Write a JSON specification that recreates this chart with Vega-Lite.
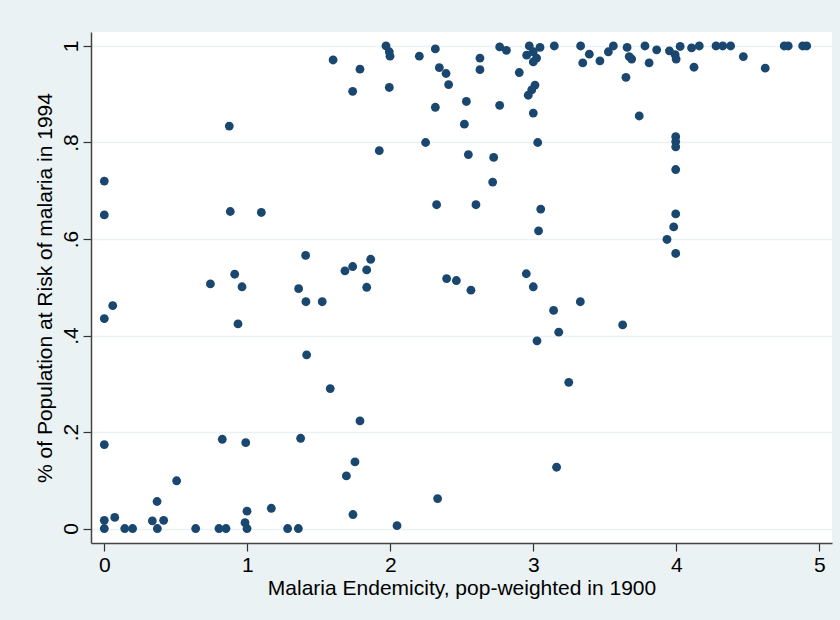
{
  "$schema": "https://vega.github.io/schema/vega-lite/v6.json",
  "width": 741,
  "height": 511,
  "autosize": {"type": "none"},
  "padding": {"left": 91, "top": 32, "right": 8, "bottom": 77},
  "background": "#EAF2F3",
  "config": {
    "view": {"fill": "white", "stroke": null},
    "font": "Liberation Sans",
    "axis": {
      "labelFont": "Liberation Sans",
      "titleFont": "Liberation Sans",
      "labelFontSize": 21,
      "titleFontSize": 21,
      "titleFontWeight": "normal",
      "labelColor": "#000",
      "titleColor": "#000",
      "domainColor": "#444",
      "domainWidth": 1.5,
      "tickColor": "#333",
      "tickWidth": 1.2,
      "tickSize": 8
    }
  },
  "data": {
    "values": [
      {"x": 0, "y": 0.72}, {"x": 0, "y": 0.65}, {"x": 0, "y": 0.435}, {"x": 0.059, "y": 0.462},
      {"x": 0, "y": 0.174}, {"x": 0, "y": 0.017}, {"x": 0, "y": 0}, {"x": 0.073, "y": 0.023},
      {"x": 0.143, "y": 0}, {"x": 0.198, "y": 0}, {"x": 0.336, "y": 0.016}, {"x": 0.371, "y": 0},
      {"x": 0.369, "y": 0.056}, {"x": 0.415, "y": 0.017}, {"x": 0.506, "y": 0.099}, {"x": 0.639, "y": 0},
      {"x": 0.802, "y": 0}, {"x": 0.851, "y": 0}, {"x": 0.825, "y": 0.185}, {"x": 0.989, "y": 0.178},
      {"x": 0.998, "y": 0.036}, {"x": 0.984, "y": 0.012}, {"x": 0.998, "y": 0}, {"x": 1.168, "y": 0.042},
      {"x": 1.282, "y": 0}, {"x": 1.357, "y": 0}, {"x": 1.373, "y": 0.187}, {"x": 1.415, "y": 0.36},
      {"x": 1.58, "y": 0.29}, {"x": 0.742, "y": 0.507}, {"x": 0.963, "y": 0.501}, {"x": 0.935, "y": 0.424},
      {"x": 1.359, "y": 0.497}, {"x": 1.41, "y": 0.47}, {"x": 1.524, "y": 0.47}, {"x": 0.874, "y": 0.834},
      {"x": 0.881, "y": 0.657}, {"x": 1.098, "y": 0.655}, {"x": 1.408, "y": 0.566}, {"x": 0.912, "y": 0.527},
      {"x": 1.6, "y": 0.971}, {"x": 1.788, "y": 0.952}, {"x": 1.737, "y": 0.906}, {"x": 1.97, "y": 1.0},
      {"x": 1.993, "y": 0.988}, {"x": 1.998, "y": 0.979}, {"x": 1.993, "y": 0.914}, {"x": 1.923, "y": 0.783},
      {"x": 2.203, "y": 0.979}, {"x": 2.315, "y": 0.994}, {"x": 2.343, "y": 0.955}, {"x": 2.39, "y": 0.943},
      {"x": 2.408, "y": 0.92}, {"x": 2.315, "y": 0.873}, {"x": 2.247, "y": 0.8}, {"x": 2.532, "y": 0.885},
      {"x": 2.518, "y": 0.838}, {"x": 2.546, "y": 0.775}, {"x": 2.627, "y": 0.975}, {"x": 2.627, "y": 0.951},
      {"x": 2.765, "y": 0.998}, {"x": 2.812, "y": 0.991}, {"x": 2.902, "y": 0.945}, {"x": 2.723, "y": 0.769},
      {"x": 2.716, "y": 0.718}, {"x": 2.765, "y": 0.877}, {"x": 2.972, "y": 1.0}, {"x": 3.047, "y": 0.997},
      {"x": 3.147, "y": 1.0}, {"x": 2.954, "y": 0.981}, {"x": 3.0, "y": 0.988}, {"x": 3.023, "y": 0.975},
      {"x": 3.0, "y": 0.967}, {"x": 3.012, "y": 0.919}, {"x": 2.989, "y": 0.909}, {"x": 2.965, "y": 0.898},
      {"x": 3.0, "y": 0.861}, {"x": 3.031, "y": 0.8}, {"x": 2.324, "y": 0.671}, {"x": 2.599, "y": 0.671},
      {"x": 3.052, "y": 0.662}, {"x": 3.037, "y": 0.617}, {"x": 1.683, "y": 0.534}, {"x": 1.737, "y": 0.543},
      {"x": 1.863, "y": 0.558}, {"x": 1.835, "y": 0.536}, {"x": 1.835, "y": 0.5}, {"x": 2.394, "y": 0.518},
      {"x": 2.462, "y": 0.514}, {"x": 2.564, "y": 0.494}, {"x": 2.951, "y": 0.528}, {"x": 3.0, "y": 0.501},
      {"x": 1.788, "y": 0.223}, {"x": 1.753, "y": 0.138}, {"x": 1.693, "y": 0.109}, {"x": 1.739, "y": 0.029},
      {"x": 2.047, "y": 0.006}, {"x": 2.331, "y": 0.062}, {"x": 3.142, "y": 0.452}, {"x": 3.178, "y": 0.407},
      {"x": 3.026, "y": 0.389}, {"x": 3.163, "y": 0.127}, {"x": 3.329, "y": 0.47}, {"x": 3.625, "y": 0.422},
      {"x": 3.248, "y": 0.303}, {"x": 3.331, "y": 1.0}, {"x": 3.346, "y": 0.965}, {"x": 3.392, "y": 0.983},
      {"x": 3.466, "y": 0.969}, {"x": 3.525, "y": 0.988}, {"x": 3.56, "y": 1.0}, {"x": 3.656, "y": 0.997},
      {"x": 3.671, "y": 0.978}, {"x": 3.688, "y": 0.973}, {"x": 3.648, "y": 0.935}, {"x": 3.741, "y": 0.855},
      {"x": 3.781, "y": 1.0}, {"x": 3.863, "y": 0.992}, {"x": 3.81, "y": 0.965}, {"x": 3.952, "y": 0.99},
      {"x": 3.992, "y": 0.982}, {"x": 4.027, "y": 0.999}, {"x": 3.999, "y": 0.973}, {"x": 4.107, "y": 0.996},
      {"x": 4.161, "y": 1.0}, {"x": 4.124, "y": 0.956}, {"x": 4.278, "y": 1.0}, {"x": 4.325, "y": 1.0},
      {"x": 4.38, "y": 1.0}, {"x": 4.469, "y": 0.978}, {"x": 4.622, "y": 0.954}, {"x": 4.755, "y": 1.0},
      {"x": 4.783, "y": 1.0}, {"x": 4.884, "y": 1.0}, {"x": 4.912, "y": 1.0}, {"x": 3.996, "y": 0.812},
      {"x": 3.996, "y": 0.802}, {"x": 3.996, "y": 0.791}, {"x": 3.996, "y": 0.744}, {"x": 3.996, "y": 0.652},
      {"x": 3.982, "y": 0.625}, {"x": 3.935, "y": 0.599}, {"x": 3.996, "y": 0.57}
    ]
  },
  "mark": {"type": "circle", "color": "#1A476F", "opacity": 1, "size": 78},
  "encoding": {
    "x": {
      "field": "x",
      "type": "quantitative",
      "scale": {"domain": [-0.093, 5.089], "nice": false, "zero": false},
      "axis": {
        "values": [0, 1, 2, 3, 4, 5],
        "grid": false,
        "title": "Malaria Endemicity, pop-weighted in 1900",
        "labelPadding": 3,
        "titlePadding": 2,
        "labelFlush": false
      }
    },
    "y": {
      "field": "y",
      "type": "quantitative",
      "scale": {"domain": [-0.030, 1.029], "nice": false, "zero": false},
      "axis": {
        "values": [0, 0.2, 0.4, 0.6, 0.8, 1],
        "labelExpr": "datum.value == 0 ? '0' : datum.value == 1 ? '1' : replace(format(datum.value, '.1f'), '0.', '.')",
        "grid": true,
        "gridColor": "#EAF2F3",
        "gridWidth": 1.5,
        "labelAngle": 270,
        "labelAlign": "center",
        "labelBaseline": "bottom",
        "labelPadding": 2,
        "labelFlush": false,
        "title": "% of Population at Risk of malaria in 1994",
        "titlePadding": 5
      }
    }
  }
}
